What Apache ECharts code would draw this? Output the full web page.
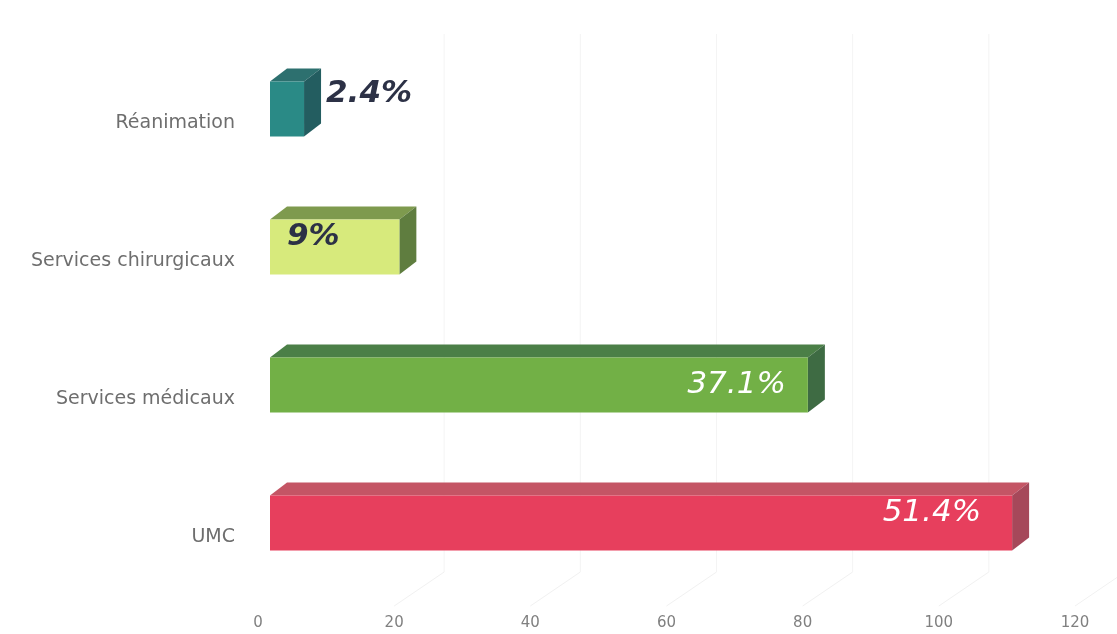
<!DOCTYPE html>
<html>
<head>
<meta charset="utf-8">
<script src="https://cdn.jsdelivr.net/npm/echarts@6/dist/echarts.min.js"></script>
<style>
  html, body { margin: 0; padding: 0; background: #ffffff; }
  #chart { width: 1117px; height: 634px; }
</style>
</head>
<body>
<div id="chart"></div>
<script>
// Patients by department (counts) and their share of the total
const categories = ['Réanimation', 'Services chirurgicaux', 'Services médicaux', 'UMC'];
const counts = [5, 19, 79, 109];
const shares = [2.4, 9, 37.1, 51.4];
const axisTicks = [0, 20, 40, 60, 80, 100, 120];

// Face colours of each 3D bar: front, top, side
const faceColors = [
  { front: '#2a8a86', top: '#2d706f', side: '#235d60' },
  { front: '#d7ea7c', top: '#7e9a4e', side: '#5f7d3f' },
  { front: '#72b046', top: '#4b7f47', side: '#3e6b43' },
  { front: '#e73f5d', top: '#c45565', side: '#a6485a' }
];
// Value-label styling per bar
const labelStyles = [
  { place: 'outside',     color: '#2c3146', weight: 'bold',   dy: 13, pad: 5 },
  { place: 'insideLeft',  color: '#2c3146', weight: 'bold',   dy: 18, pad: 17 },
  { place: 'insideRight', color: '#ffffff', weight: 'normal', dy: 28, pad: 22 },
  { place: 'insideRight', color: '#ffffff', weight: 'normal', dy: 18, pad: 31 }
];

// Perspective: bars sit behind the floor front edge, with visible depth
const SHIFT_X = 12, SHIFT_Y = -14;   // floor front -> bar front face
const DEPTH_X = 17, DEPTH_Y = -13;   // bar front face -> back face
const WALL_X = 50, WALL_Y = -34;     // floor front -> back wall

const chart = echarts.init(document.getElementById('chart'), null, { renderer: 'canvas' });

function renderBar(params, api) {
  const i = api.value(0);
  const v = api.value(1);
  const p0 = api.coord([0, i]);
  const p1 = api.coord([v, i]);
  const band = api.size([0, 1])[1];
  const h = band * 0.40;
  const cy = p0[1] + SHIFT_Y;
  const x0 = p0[0] + SHIFT_X;
  const x1 = p1[0] + SHIFT_X;
  const top = cy - h / 2, bot = cy + h / 2;
  const c = faceColors[i];
  const ls = labelStyles[i];

  let tx, align;
  if (ls.place === 'outside') { tx = x1 + DEPTH_X + ls.pad; align = 'left'; }
  else if (ls.place === 'insideLeft') { tx = x0 + ls.pad; align = 'left'; }
  else { tx = x1 - ls.pad; align = 'right'; }

  return {
    type: 'group',
    children: [
      { type: 'polygon', shape: { points: [[x0, top], [x1, top], [x1 + DEPTH_X, top + DEPTH_Y], [x0 + DEPTH_X, top + DEPTH_Y]] },
        style: { fill: c.top } },
      { type: 'polygon', shape: { points: [[x1, top], [x1 + DEPTH_X, top + DEPTH_Y], [x1 + DEPTH_X, bot + DEPTH_Y], [x1, bot]] },
        style: { fill: c.side } },
      { type: 'rect', shape: { x: x0, y: top, width: x1 - x0, height: h },
        style: { fill: c.front } },
      { type: 'text', x: tx, y: top + ls.dy,
        style: { text: shares[i] + '%', fill: ls.color, align: align, verticalAlign: 'middle',
          font: 'italic ' + ls.weight + ' 31px "DejaVu Sans", sans-serif' } }
    ]
  };
}

// Faint floor and back-wall gridlines at each value tick
function renderGrid(params, api) {
  const v = api.value(0);
  const pFloor = api.coord([v, categories.length - 1]);
  const band = api.size([0, 1])[1];
  const xf = pFloor[0];
  const yf = pFloor[1] + band / 2;
  const pTop = api.coord([v, 0])[1] - band / 2;
  return {
    type: 'group',
    silent: true,
    children: [
      { type: 'line', shape: { x1: xf, y1: yf, x2: xf + WALL_X, y2: yf + WALL_Y },
        style: { stroke: '#f1f1f1', lineWidth: 1 } },
      { type: 'line', shape: { x1: xf + WALL_X, y1: yf + WALL_Y, x2: xf + WALL_X, y2: pTop - 20 },
        style: { stroke: '#f4f4f4', lineWidth: 1 } }
    ]
  };
}

chart.setOption({
  backgroundColor: '#ffffff',
  animation: false,
  grid: { left: 258, right: 42, top: 54, bottom: 28, containLabel: false },
  xAxis: {
    type: 'value', min: axisTicks[0], max: axisTicks[axisTicks.length - 1], interval: 20,
    axisLine: { show: false }, axisTick: { show: false }, splitLine: { show: false },
    axisLabel: { color: '#808080', fontSize: 15, margin: 10, fontFamily: '"DejaVu Sans", sans-serif' }
  },
  yAxis: {
    type: 'category', data: categories, inverse: true,
    axisLine: { show: false }, axisTick: { show: false }, splitLine: { show: false },
    axisLabel: { color: '#6e6e6e', fontSize: 19, margin: 23, fontFamily: '"DejaVu Sans", sans-serif' }
  },
  series: [
    {
      type: 'custom', renderItem: renderGrid, silent: true, z: 1,
      encode: { x: 0 },
      data: axisTicks.slice(1).map(t => [t])
    },
    {
      type: 'custom', renderItem: renderBar, z: 2,
      encode: { x: 1, y: 0 },
      data: counts.map((c, i) => [i, c])
    }
  ]
});
</script>
</body>
</html>
